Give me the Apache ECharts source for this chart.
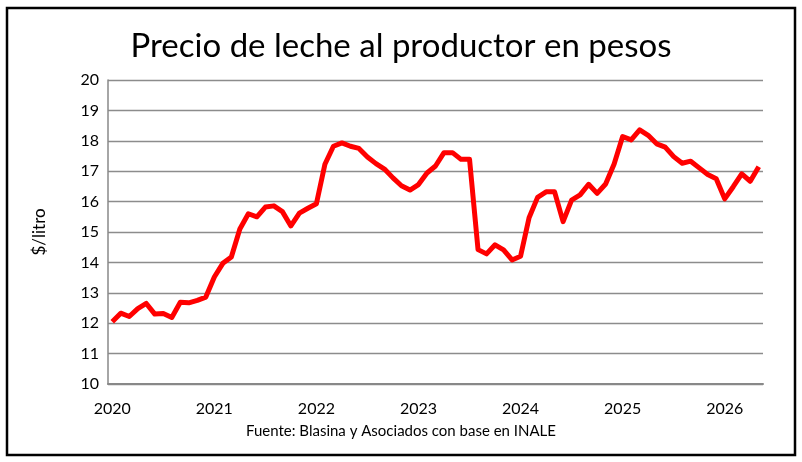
<!DOCTYPE html>
<html>
<head>
<meta charset="utf-8">
<script src="https://cdn.jsdelivr.net/npm/echarts@6/dist/echarts.min.js"></script>
<style>
  html, body { margin: 0; padding: 0; background: #fff; }
  #chart { width: 802px; height: 462px; }
</style>
</head>
<body>
<div id="chart"></div>
<script>
// meses desde ene-2020 hasta may-2026
const meses = [];
for (let y = 2020; y <= 2026; y++) {
    for (let m = 1; m <= 12; m++) {
        if (y === 2026 && m > 5) break;
        meses.push(y + '-' + String(m).padStart(2, '0'));
    }
}

// precio en $/litro
const precio = [
    12.05, 12.33, 12.22, 12.48, 12.65, 12.30, 12.32, 12.19, 12.69, 12.67, 12.75, 12.86,
    13.52, 13.97, 14.18, 15.10, 15.60, 15.50, 15.82, 15.86, 15.67, 15.20, 15.62, 15.78,
    15.93, 17.23, 17.82, 17.93, 17.82, 17.75, 17.47, 17.25, 17.07, 16.78, 16.52, 16.38,
    16.56, 16.94, 17.17, 17.61, 17.61, 17.39, 17.39, 14.42, 14.28, 14.58, 14.41, 14.08,
    14.20, 15.47, 16.14, 16.32, 16.32, 15.34, 16.05, 16.22, 16.57, 16.27, 16.58, 17.24,
    18.14, 18.03, 18.36, 18.18, 17.90, 17.79, 17.48, 17.26, 17.33, 17.11, 16.89, 16.75,
    16.09, 16.49, 16.91, 16.67, 17.15
];

const yMin = 10, yMax = 20, yPaso = 1;

const FONT = 'Lato';

var myChart = echarts.init(document.getElementById('chart'), null, { renderer: 'canvas' });

const option = {
    backgroundColor: '#fff',
    animation: false,
    textStyle: { fontFamily: FONT },
    title: {
        text: 'Precio de leche al productor en pesos',
        left: 'center',
        top: 25,
        textStyle: { fontFamily: FONT, fontSize: 33, fontWeight: 'normal', color: '#000' }
    },
    graphic: [
        {
            type: 'rect',
            shape: { x: 7, y: 8, width: 788, height: 447 },
            style: { fill: 'none', stroke: '#000', lineWidth: 2.5 },
            silent: true
        },
        {
            type: 'text',
            left: 'center',
            top: 424,
            style: {
                text: 'Fuente: Blasina y Asociados con base en INALE',
                fontFamily: FONT, fontSize: 15, fill: '#000'
            }
        }
    ],
    grid: { left: 108, right: 39, top: 80, bottom: 78 },
    xAxis: {
        type: 'category',
        data: meses,
        boundaryGap: true,
        axisLine: { lineStyle: { color: '#888', width: 2 } },
        axisTick: { show: false },
        axisLabel: {
            interval: function (i) { return i % 12 === 0; },
            formatter: function (v) { return v.slice(0, 4); },
            fontFamily: FONT, fontSize: 16, color: '#000', margin: 17
        },
        splitLine: { show: false }
    },
    yAxis: {
        type: 'value',
        min: yMin,
        max: yMax,
        interval: yPaso,
        name: '$/litro',
        nameLocation: 'middle',
        nameGap: 60,
        nameTextStyle: { fontFamily: FONT, fontSize: 17, color: '#000' },
        axisLine: { show: true, lineStyle: { color: '#888', width: 1.5 } },
        axisTick: { show: false },
        axisLabel: { fontFamily: FONT, fontSize: 16, color: '#000', margin: 9 },
        splitLine: { lineStyle: { color: '#8c8c8c', width: 1.3 } }
    },
    series: [
        {
            type: 'line',
            data: precio,
            showSymbol: false,
            lineStyle: { color: '#ff0000', width: 5, join: 'round' },
            itemStyle: { color: '#ff0000' }
        }
    ]
};

myChart.setOption(option);
window.addEventListener('resize', myChart.resize);
</script>
</body>
</html>
